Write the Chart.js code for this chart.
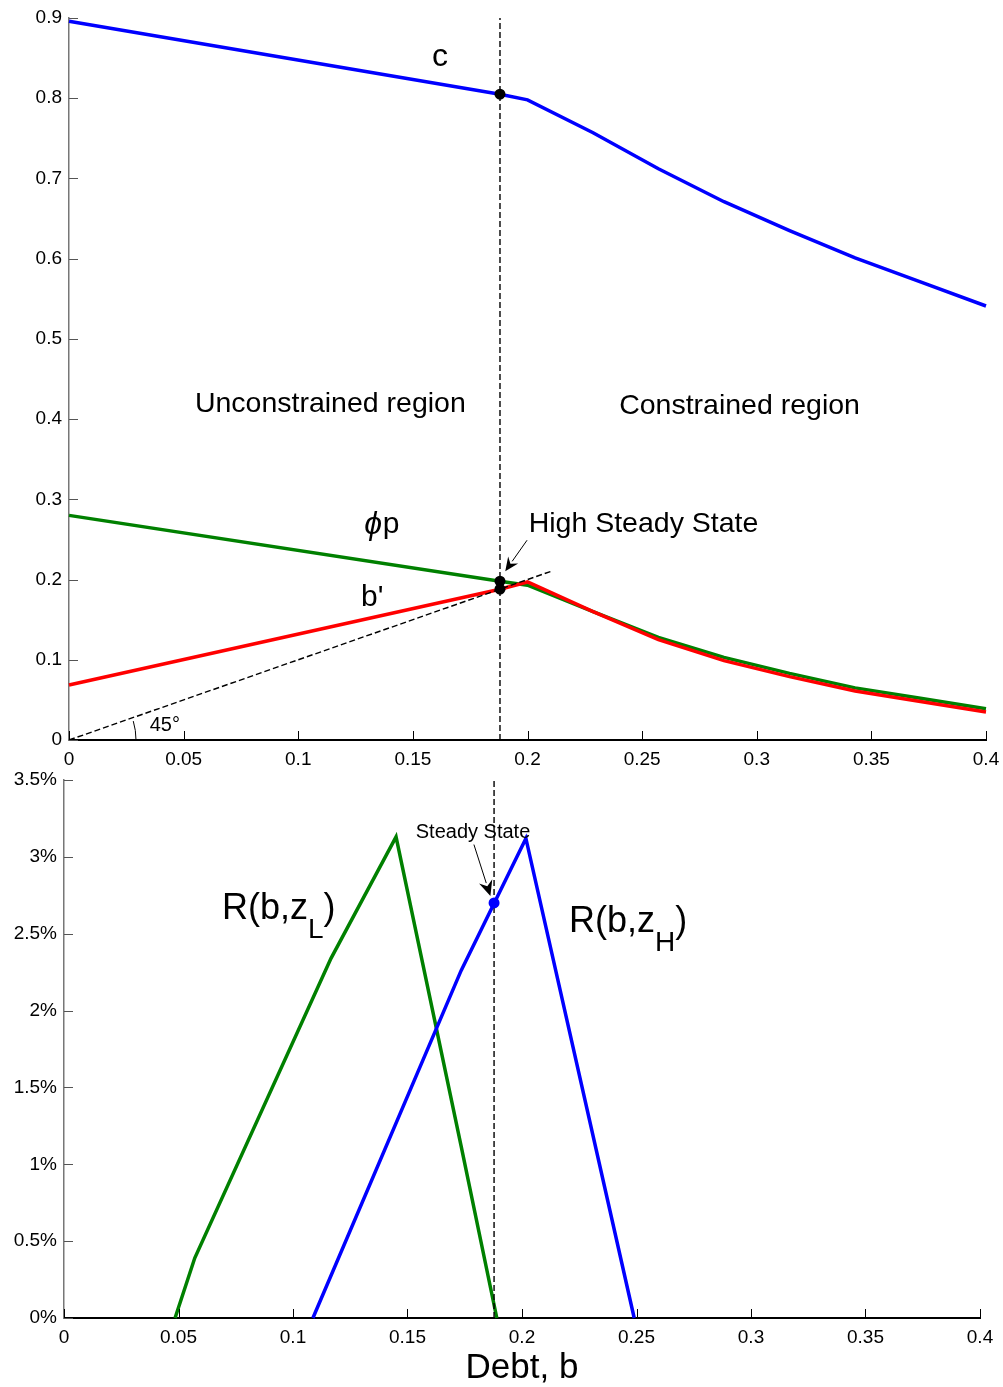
<!DOCTYPE html>
<html lang="en">
<head>
<meta charset="UTF-8">
<title>Debt, consumption and interest spread</title>
<script src="https://cdn.jsdelivr.net/npm/chart.js"></script>
<style>
  body { margin: 0; background: #fff; }
  .panel { position: absolute; left: 0; }
</style>
</head>
<body>
<div class="panel" style="top:0"><canvas id="topChart" width="1003" height="770"></canvas></div>
<div class="panel" style="top:770px"><canvas id="bottomChart" width="1003" height="617"></canvas></div>
<script>
// ---- top panel: policy functions against debt b ----
const cDebt = [0, 0.188, 0.2, 0.2286, 0.2571, 0.2857, 0.3143, 0.3429, 0.3714, 0.4];
const cValues = [0.896, 0.805, 0.798, 0.757, 0.712, 0.671, 0.635, 0.601, 0.571, 0.541];
const phiPDebt = [0, 0.188, 0.2, 0.2286, 0.2571, 0.2857, 0.3143, 0.3429, 0.3714, 0.4];
const phiPValues = [0.280, 0.198, 0.193, 0.160, 0.128, 0.103, 0.083, 0.065, 0.052, 0.039];
const bNextDebt = [0, 0.188, 0.2, 0.2286, 0.2571, 0.2857, 0.3143, 0.3429, 0.3714, 0.4];
const bNextValues = [0.0685, 0.188, 0.197, 0.160, 0.125, 0.099, 0.079, 0.061, 0.048, 0.035];
const diagDebt = [0, 0.21];
const diagValues = [0, 0.21];
const highSteadyDebt = 0.188;
const steadyDotValues = [0.805, 0.198, 0.188];
const topXTicks = [0, 0.4, 0.05];
const topYTicks = [0, 0.9, 0.1];

// ---- bottom panel: spread R(b,z) in percent ----
const rLowDebt = [0.0485, 0.0571, 0.1166, 0.145, 0.1734, 0.189];
const rLowValues = [0, 0.39, 2.34, 3.13, 1.12, 0];
const rHighDebt = [0.1087, 0.1734, 0.2017, 0.249];
const rHighValues = [0, 2.26, 3.12, 0];
const steadyDebt = 0.1878;
const steadyValue = 2.7;
const bottomXTicks = [0, 0.4, 0.05];
const bottomYTicks = [0, 3.5, 0.5];

const FONT = '"Liberation Sans", Arial, Helvetica, sans-serif';

function fmt(v) { return String(Math.round(v * 1000) / 1000); }

function lineSet(xs, ys, color, width, order, dash) {
  return {
    data: xs.map((x, i) => ({ x: x, y: ys[i] })),
    showLine: true, borderColor: color, backgroundColor: color,
    borderWidth: width, borderDash: dash || [], pointRadius: 0,
    tension: 0, fill: false, order: order, clip: false
  };
}

function dotSet(xs, ys, color, r, order) {
  return {
    data: xs.map((x, i) => ({ x: x, y: ys[i] })),
    showLine: false, pointRadius: r, pointBackgroundColor: color,
    pointBorderColor: color, pointBorderWidth: 0, order: order, clip: false
  };
}

// tick marks drawn inside the axes, like the original
const innerTicks = {
  id: 'innerTicks',
  afterDraw(chart) {
    const ctx = chart.ctx, a = chart.chartArea;
    const xs = chart.scales.x, ys = chart.scales.y;
    ctx.save();
    ctx.lineWidth = 1;
    ctx.strokeStyle = '#000';
    xs.ticks.forEach(t => {
      const p = Math.round(xs.getPixelForValue(t.value)) + 0.5;
      ctx.beginPath(); ctx.moveTo(p, a.bottom); ctx.lineTo(p, a.bottom - 9); ctx.stroke();
    });
    ctx.strokeStyle = '#555';
    ys.ticks.forEach(t => {
      const p = Math.round(ys.getPixelForValue(t.value)) + 0.5;
      ctx.beginPath(); ctx.moveTo(a.left, p); ctx.lineTo(a.left + 9, p); ctx.stroke();
    });
    ctx.restore();
  }
};

function arrow(ctx, x1, y1, x2, y2, head, lw) {
  const ang = Math.atan2(y2 - y1, x2 - x1);
  ctx.beginPath();
  ctx.lineWidth = lw;
  ctx.moveTo(x1, y1);
  ctx.lineTo(x2 - Math.cos(ang) * head * 0.8, y2 - Math.sin(ang) * head * 0.8);
  ctx.stroke();
  ctx.beginPath();
  ctx.moveTo(x2, y2);
  ctx.lineTo(x2 - head * Math.cos(ang - 0.42), y2 - head * Math.sin(ang - 0.42));
  ctx.lineTo(x2 - head * 0.6 * Math.cos(ang), y2 - head * 0.6 * Math.sin(ang));
  ctx.lineTo(x2 - head * Math.cos(ang + 0.42), y2 - head * Math.sin(ang + 0.42));
  ctx.closePath();
  ctx.fill();
}

function text(ctx, str, x, y, size, align, style) {
  ctx.font = (style ? style + ' ' : '') + size + 'px ' + FONT;
  ctx.textAlign = align || 'center';
  ctx.textBaseline = 'middle';
  ctx.fillText(str, x, y);
}

// R(b,z) with a subscript, left edge at x
function rLabel(ctx, sub, x, y, size) {
  ctx.font = size + 'px ' + FONT;
  ctx.textAlign = 'left';
  ctx.textBaseline = 'middle';
  ctx.fillText('R(b,z', x, y);
  let w = ctx.measureText('R(b,z').width;
  ctx.font = Math.round(size * 0.78) + 'px ' + FONT;
  ctx.fillText(sub, x + w, y + size * 0.58);
  const w2 = ctx.measureText(sub).width;
  ctx.font = size + 'px ' + FONT;
  ctx.fillText(')', x + w + w2, y);
}

const topNotes = {
  id: 'topNotes',
  afterDraw(chart) {
    const ctx = chart.ctx, sx = chart.scales.x, sy = chart.scales.y;
    const X = v => sx.getPixelForValue(v), Y = v => sy.getPixelForValue(v);
    ctx.save();
    ctx.fillStyle = '#000';
    ctx.strokeStyle = '#000';
    text(ctx, 'c', X(0.1618), Y(0.851), 32);
    text(ctx, 'Unconstrained region', X(0.114), Y(0.419), 28.5);
    text(ctx, 'Constrained region', X(0.2925), Y(0.416), 28.5);
    // phi p, the phi slanted like the original
    text(ctx, '\u03d5', X(0.1327), Y(0.268), 32, 'center', 'italic');
    text(ctx, 'p', X(0.1405), Y(0.268), 30);
    text(ctx, "b'", X(0.1323), Y(0.177), 30);
    text(ctx, 'High Steady State', X(0.2005), Y(0.269), 28.5, 'left');
    arrow(ctx, X(0.1998), Y(0.249), X(0.1903), Y(0.2105), 15, 1);
    // angle mark of the 45 degree line
    const ox = X(0), oy = Y(0);
    const ang = Math.atan2(Y(diagValues[1]) - oy, X(diagDebt[1]) - ox);
    ctx.lineWidth = 1;
    ctx.beginPath(); ctx.arc(ox, oy, 67, ang * 0.85, 0); ctx.stroke();
    text(ctx, '45\u00b0', X(0.0352), Y(0.0185), 20, 'left');
    ctx.restore();
  }
};

const bottomNotes = {
  id: 'bottomNotes',
  afterDraw(chart) {
    const ctx = chart.ctx, sx = chart.scales.x, sy = chart.scales.y;
    const X = v => sx.getPixelForValue(v), Y = v => sy.getPixelForValue(v);
    const a = chart.chartArea;
    ctx.save();
    ctx.fillStyle = '#000';
    ctx.strokeStyle = '#000';
    text(ctx, 'Steady State', X(0.1786), Y(3.157), 20);
    arrow(ctx, X(0.179), Y(3.08), X(0.1862), Y(2.745), 17, 1);
    rLabel(ctx, 'L', X(0.069), Y(2.66), 36);
    rLabel(ctx, 'H', X(0.2205), Y(2.575), 36);
    text(ctx, 'Debt, b', (a.left + a.right) / 2, a.bottom + 50, 35);
    ctx.restore();
  }
};

function scales(xTicks, yTicks, xPad, yWidth, xHeight, yFmt) {
  return {
    x: {
      type: 'linear', min: xTicks[0], max: xTicks[1],
      afterFit: s => { s.height = xHeight; s.paddingLeft = 0; s.paddingRight = 0; },
      grid: { display: false, drawTicks: false },
      border: { display: true, color: '#000', width: 2 },
      ticks: {
        stepSize: xTicks[2], padding: xPad, color: '#000', autoSkip: false, maxRotation: 0,
        font: { family: FONT, size: 19 }, callback: v => fmt(v)
      }
    },
    y: {
      type: 'linear', min: yTicks[0], max: yTicks[1],
      afterFit: s => { s.width = yWidth; s.paddingTop = 0; s.paddingBottom = 0; },
      grid: { display: false, drawTicks: false },
      border: { display: true, color: '#777', width: 1.5 },
      ticks: {
        stepSize: yTicks[2], padding: 7, color: '#000', autoSkip: false,
        font: { family: FONT, size: 19 }, callback: v => fmt(v) + yFmt
      }
    }
  };
}

const baseOpts = {
  responsive: false,
  animation: false,
  devicePixelRatio: 1,
  plugins: { legend: { display: false }, tooltip: { enabled: false } }
};

new Chart(document.getElementById('topChart'), {
  type: 'scatter',
  data: {
    datasets: [
      dotSet([highSteadyDebt, highSteadyDebt, highSteadyDebt], steadyDotValues, '#000', 5.5, 0),
      lineSet([highSteadyDebt, highSteadyDebt], [topYTicks[0], topYTicks[1]], '#000', 1.4, 1, [6, 3]),
      lineSet(diagDebt, diagValues, '#000', 1.4, 2, [6, 3]),
      lineSet(bNextDebt, bNextValues, '#ff0000', 3.5, 3),
      lineSet(phiPDebt, phiPValues, '#008000', 3.5, 4),
      lineSet(cDebt, cValues, '#0000ff', 3.5, 5)
    ]
  },
  options: Object.assign({}, baseOpts, {
    layout: { padding: { top: 18, right: 17, left: 0, bottom: 0 } },
    scales: scales(topXTicks, topYTicks, 8, 69, 30, '')
  }),
  plugins: [innerTicks, topNotes]
});

new Chart(document.getElementById('bottomChart'), {
  type: 'scatter',
  data: {
    datasets: [
      dotSet([steadyDebt], [steadyValue], '#0000ff', 5.5, 0),
      lineSet([steadyDebt, steadyDebt], [bottomYTicks[0], bottomYTicks[1]], '#000', 1.4, 1, [6, 3]),
      lineSet(rHighDebt, rHighValues, '#0000ff', 3.5, 2),
      lineSet(rLowDebt, rLowValues, '#008000', 3.5, 3)
    ]
  },
  options: Object.assign({}, baseOpts, {
    layout: { padding: { top: 10, right: 23, left: 0, bottom: 0 } },
    scales: scales(bottomXTicks, bottomYTicks, 8, 64, 69, '%')
  }),
  plugins: [innerTicks, bottomNotes]
});
</script>
</body>
</html>
